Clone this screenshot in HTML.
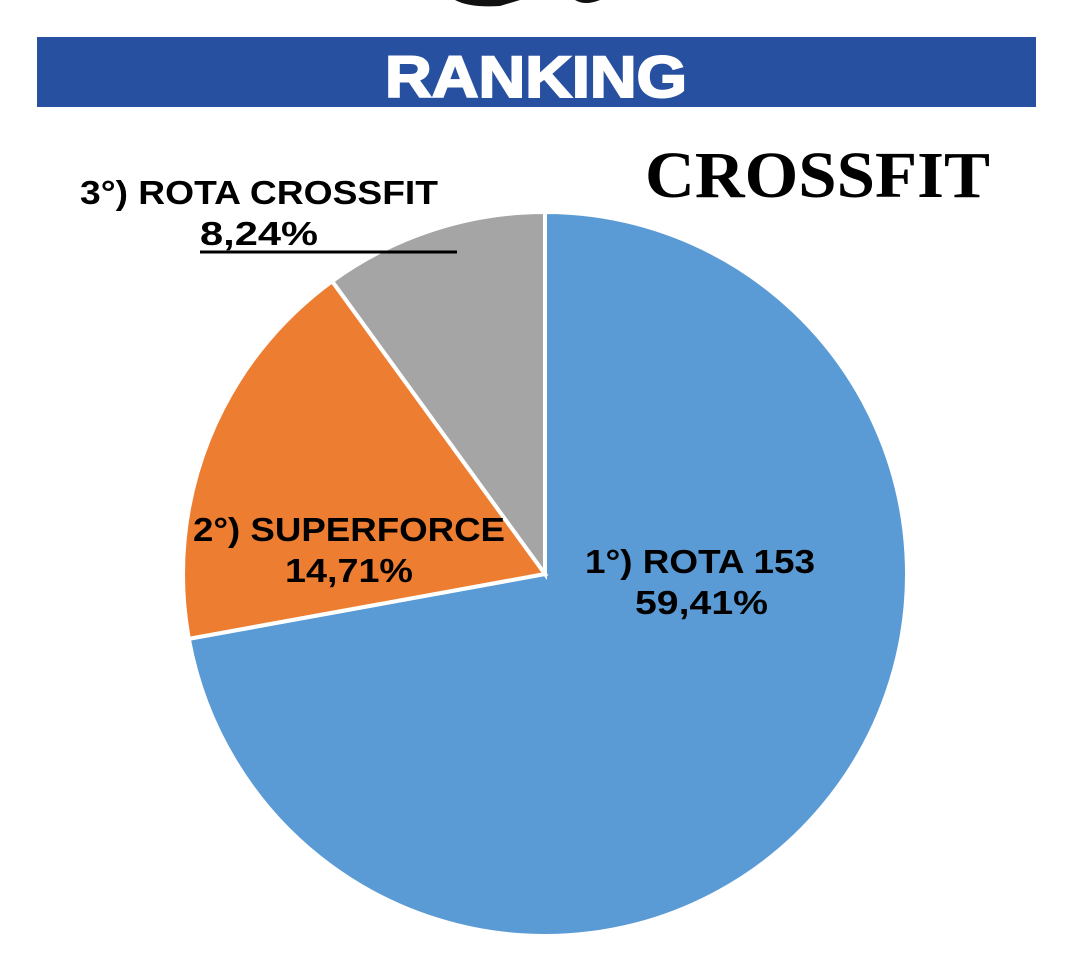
<!DOCTYPE html>
<html><head><meta charset="utf-8"><style>
html,body{margin:0;padding:0;background:#fff;width:1065px;height:960px;overflow:hidden}
svg{display:block}
text{font-family:"Liberation Sans",sans-serif;font-weight:bold}
</style></head><body>
<svg width="1065" height="960">
<path d="M455 0 Q470 8 500 6 L520 0 Z M575 0 Q585 6 600 0 Z" fill="#111"/>
<rect x="37" y="37" width="999" height="70" fill="#2850a0"/>
<text x="385" y="97" font-size="58" fill="#fff" stroke="#fff" stroke-width="2" textLength="302" lengthAdjust="spacingAndGlyphs">RANKING</text>
<text x="645" y="197" font-size="66" fill="#000" style="font-family:'Liberation Serif',serif;font-weight:bold" textLength="345" lengthAdjust="spacingAndGlyphs">CROSSFIT</text>
<g id="pie"></g>
<line x1="200" y1="252" x2="457" y2="252" stroke="#000" stroke-width="3"/>
<g font-size="33" fill="#000">
<text x="585" y="573" textLength="230" lengthAdjust="spacingAndGlyphs">1°) ROTA 153</text>
<text x="635" y="614" textLength="133" lengthAdjust="spacingAndGlyphs">59,41%</text>
<text x="193" y="541" textLength="312" lengthAdjust="spacingAndGlyphs">2°) SUPERFORCE</text>
<text x="285" y="582" textLength="128" lengthAdjust="spacingAndGlyphs">14,71%</text>
<text x="80" y="204" textLength="358" lengthAdjust="spacingAndGlyphs">3°) ROTA CROSSFIT</text>
<text x="200" y="245" textLength="118" lengthAdjust="spacingAndGlyphs">8,24%</text>
</g>
</svg>
<script>
const categories=["1°) ROTA 153","2°) SUPERFORCE","3°) ROTA CROSSFIT"];
const values=[59.41,14.71,8.24];
const colors=["#5b9bd5","#ed7d31","#a5a5a5"];
const cx=545,cy=574,r=362;
const total=values.reduce((a,b)=>a+b,0);
const g=document.getElementById('pie');
let a0=0;
function pt(a){return [cx+r*Math.sin(a),cy-r*Math.cos(a)];}
values.forEach((v,i)=>{
  const a1=a0+v/total*2*Math.PI;
  const p0=pt(a0),p1=pt(a1);
  const large=(a1-a0)>Math.PI?1:0;
  const p=document.createElementNS('http://www.w3.org/2000/svg','path');
  p.setAttribute('d',`M${cx},${cy} L${p0[0]},${p0[1]} A${r},${r} 0 ${large} 1 ${p1[0]},${p1[1]} Z`);
  p.setAttribute('fill',colors[i]);
  p.setAttribute('stroke','#fff');
  p.setAttribute('stroke-width','4');
  
  
  g.appendChild(p);
  a0=a1;
});
</script>
</body></html>
